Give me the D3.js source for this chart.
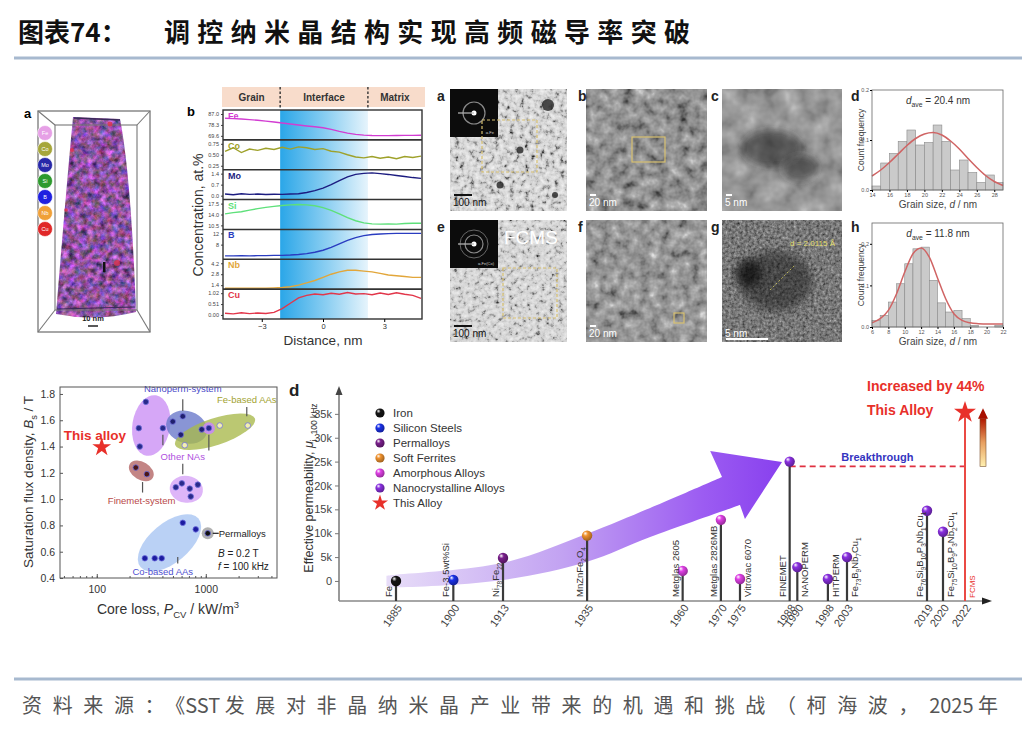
<!DOCTYPE html>
<html>
<head>
<meta charset="utf-8">
<title>调控纳米晶结构实现高频磁导率突破</title>
<script src="https://cdn.jsdelivr.net/npm/d3@7/dist/d3.min.js"></script>
<style>
  body { margin: 0; background: #fff; }
  svg { display: block; font-family: "Liberation Sans", Arial, sans-serif; }
</style>
</head>
<body>
<svg id="chart" width="1036" height="732"></svg>
<script>
// ---------------- data ----------------
// panel b : atom probe concentration profiles across the grain / matrix interface
var distNm = [-4.8,-4.4,-4.0,-3.6,-3.2,-2.8,-2.4,-2.0,-1.6,-1.2,-0.8,-0.4,0,0.4,0.8,1.2,1.6,2.0,2.4,2.8,3.2,3.6,4.0,4.4,4.8];
var elemNames = ["Fe","Co","Mo","Si","B","Nb","Cu"];
var feConc = [83.6,83.3,83.0,82.5,82.0,81.3,80.6,79.8,79.0,78.2,77.5,76.8,76.0,74.8,73.2,71.8,70.8,70.2,69.9,69.8,69.8,69.9,70.0,70.0,70.1];
var coConc = [0.58,0.66,0.55,0.63,0.60,0.65,0.62,0.67,0.63,0.68,0.66,0.62,0.64,0.58,0.56,0.50,0.45,0.43,0.46,0.42,0.45,0.41,0.46,0.44,0.47];
var moConc = [0.10,0.06,0.12,0.08,0.10,0.07,0.09,0.08,0.10,0.12,0.20,0.32,0.48,0.70,0.95,1.20,1.35,1.42,1.45,1.40,1.35,1.28,1.22,1.15,1.10];
var siConc = [14.2,14.6,14.9,15.4,15.9,16.3,16.6,16.9,17.1,17.2,17.1,16.8,16.2,15.3,14.2,13.0,12.0,11.3,11.0,10.9,11.0,10.9,11.1,11.2,11.2];
var bConc  = [4.0,4.0,4.1,4.0,4.1,4.1,4.2,4.2,4.3,4.5,4.8,5.3,6.0,7.0,8.3,9.5,10.5,11.2,11.6,11.8,11.9,12.0,12.0,12.0,12.0];
var nbConc = [1.0,1.0,1.0,1.0,1.0,1.0,1.05,1.1,1.2,1.4,1.7,2.0,2.4,2.8,3.1,3.3,3.3,3.2,3.1,2.9,2.7,2.6,2.5,2.4,2.4];
var cuConc = [0.08,0.05,0.10,0.06,0.09,0.07,0.12,0.30,0.55,0.80,0.92,0.98,0.95,1.02,0.97,1.05,0.98,1.00,0.95,1.03,0.96,1.04,0.97,0.92,0.78];
var elemTickLabels = [["87.0","78.3","69.6"],["0.75","0.50","0.25"],["1.4","0.7","0.0"],["17.5","14.0","10.5"],["12","8"],["4.2","2.8","1.4"],["1.02","0.51","0.00"]];
var elemDomains = [[66.4,90.2],[0.16,0.84],[-0.25,1.65],[9.2,18.8],[2.8,13.4],[0.89,4.71],[-0.19,1.21]];
var regionNames = ["Grain","Interface","Matrix"];
var interfaceNm = [-2.1, 2.2];

// panels d / h : grain size histograms with normal fits
var binStartD = [14,15,16,17,18,19,20,21,22,23,24,25,26,27,28];
var freqD = [0.008,0.054,0.073,0.097,0.120,0.090,0.095,0.130,0.097,0.040,0.060,0.035,0.015,0.030,0.015];
var fitXD = [14,15,16,17,18,19,20,21,22,23,24,25,26,27,28,29];
var fitYD = [0.028,0.040,0.055,0.072,0.089,0.103,0.112,0.115,0.110,0.098,0.082,0.063,0.045,0.029,0.017,0.009];
var binStartH = [6,7,8,9,10,11,12,13,14,15,16,17,18,19,20,21];
var freqH = [0.016,0.028,0.060,0.104,0.152,0.188,0.192,0.112,0.058,0.036,0.040,0.020,0.004,0,0,0.004];
var fitXH = [6,7,8,9,10,11,12,13,14,15,16,17,18,19,20,21,22];
var fitYH = [0.010,0.020,0.040,0.080,0.132,0.176,0.190,0.168,0.118,0.068,0.032,0.016,0.010,0.008,0.007,0.007,0.007];

// panel c : saturation flux density vs core loss (kW/m3, T)
var otherNAPts  = [[282,1.74],[243,1.54],[248,1.40],[404,1.54]];
var otherNAPts2 = [[1067,1.54]];
var otherNAPts3 = [[603,1.12],[713,1.08],[845,1.11],[728,1.02],[531,1.09]];
var nanopermPts = [[498,1.59],[615,1.63],[590,1.49],[918,1.53]];
var feBasedPts  = [[641,1.41],[1343,1.56],[2427,1.56]];
var finemetPts  = [[228,1.24],[288,1.19]];
var coBasedPts  = [[276,0.55],[340,0.55],[394,0.55],[615,0.82],[809,0.77]];
var permalloyPts = [[1042,0.74]];
var thisAlloyPt = [111,1.395];
var bsTicks = [0.4,0.6,0.8,1.0,1.2,1.4,1.6,1.8];
var pcvTicks = [100,1000];

// panel d : effective permeability milestones (k, 100 kHz)
var years = [1885,1900,1913,1935,1960,1970,1975,1988,1990,1998,2003,2019,2020];
var muValues = [0,0.2,4.8,9.5,2.1,12.8,0.4,25,2.9,0.4,5,14.7,10.3];
var muCats = ["Iron","Silicon Steels","Permalloys","Soft Ferrites","Amorphous Alloys","Amorphous Alloys","Amorphous Alloys",
  "Nanocrystalline Alloys","Nanocrystalline Alloys","Nanocrystalline Alloys","Nanocrystalline Alloys","Nanocrystalline Alloys","Nanocrystalline Alloys"];
var muNames = ["Fe","Fe-3.5wt%Si","Ni_{78}Fe_{22}","MnZnFe_{2}O_{4}","Metglas 2605","Metglas 2826MB","Vitrovac 6070","FINEMET","NANOPERM",
  "HITPERM","Fe_{73}B_{9}Nb_{7}Cu_{1}","Fe_{76}Si_{9}B_{10}P_{3}Nb_{1}Cu_{1}","Fe_{75}Si_{10}B_{9}P_{3}Nb_{2}Cu_{1}"];
var namesOnRight = ["Vitrovac 6070","NANOPERM","HITPERM","Fe_{73}B_{9}Nb_{7}Cu_{1}","Fe_{75}Si_{10}B_{9}P_{3}Nb_{2}Cu_{1}"];
var legendCats = ["Iron","Silicon Steels","Permalloys","Soft Ferrites","Amorphous Alloys","Nanocrystalline Alloys","This Alloy"];
var legendColors = ["#151515","#1a30e8","#7a1f8c","#f0922e","#e040e6","#8a30e0","#e8302a"];
var fcmsYear = 2022, fcmsMu = 35.3, breakthroughMu = 24;
var muTicks = [0,5,10,15,20,25,30,35];
// trend arrow outline, in (year, k) units
var trendTop = [[1882.5,1.1],[1885,1.3],[1913,3.8],[1935,9.9],[1951.5,15.3],[1970.3,21.8]];
var trendHead = [[1967.2,27.2],[1986,24.9],[1976.3,13.0],[1975,15.9]];
var trendBottom = [[1975,15.9],[1951.5,9.2],[1935,4.0],[1913,0.2],[1885,-1.3],[1882.5,-1.1]];

// ---------------- helpers ----------------
var svg = d3.select("#chart");
var defs = svg.append("defs");
var CJK = "'Noto Sans CJK SC', sans-serif";

function rich(t, str, size) {
  var parts = str.split(/(_\{[^}]*\}|\^\{[^}]*\}|\*[^*]+\*)/);
  var shift = 0;
  parts.forEach(function(p) {
    if (!p) return;
    var m = p.match(/^([_^])\{(.*)\}$/);
    if (m) {
      var dy = m[1] === "_" ? size * 0.28 : -size * 0.42;
      t.append("tspan").attr("dy", dy - shift).attr("font-size", size * 0.68).text(m[2]);
      shift = dy;
    } else {
      var it = p.match(/^\*(.*)\*$/);
      var s = t.append("tspan").attr("dy", -shift).text(it ? it[1] : p);
      if (it) s.attr("font-style", "italic");
      shift = 0;
    }
  });
  return t;
}

function ballGradient(id, col) {
  var g = defs.append("radialGradient").attr("id", id).attr("cx", "0.4").attr("cy", "0.38").attr("r", "0.65").attr("fx", "0.32").attr("fy", "0.28");
  g.append("stop").attr("offset", "0").attr("stop-color", "#fff");
  g.append("stop").attr("offset", "0.35").attr("stop-color", col);
  g.append("stop").attr("offset", "1").attr("stop-color", d3.color(col).darker(1.2));
}
legendCats.forEach(function(c, i) { ballGradient("ball" + i, legendColors[i]); });

// ---------------- title & footer ----------------
svg.append("text").attr("x", 18).attr("y", 42).attr("font-family", CJK).attr("font-weight", 700)
  .attr("font-size", 26).attr("fill", "#111").text("图表74：");
svg.append("text").attr("x", 164).attr("y", 42).attr("font-family", CJK).attr("font-weight", 700)
  .attr("font-size", 26).attr("fill", "#111").attr("textLength", 526).attr("lengthAdjust", "spacing")
  .text("调控纳米晶结构实现高频磁导率突破");
svg.append("line").attr("x1", 14).attr("x2", 1022).attr("y1", 58).attr("y2", 58).attr("stroke", "#a7b9cf").attr("stroke-width", 3);
svg.append("line").attr("x1", 14).attr("x2", 1022).attr("y1", 679).attr("y2", 679).attr("stroke", "#a7b9cf").attr("stroke-width", 3);
(function() {
  var foot = svg.append("text").attr("x", 22).attr("y", 713).attr("font-family", CJK).attr("font-size", 20).attr("fill", "#555");
  var segs = [["资料来源：", true], ["《SST ", false], ["发展对非晶纳米晶产业带来的机遇和挑战（柯海波，", true], ["2025 ", false], ["年", true]];
  segs.forEach(function(s) { foot.append("tspan").attr("class", s[1] ? "cjk" : "lat").text(s[0]); });
  var nCjk = d3.sum(segs, function(s) { return s[1] ? s[0].length : 0; });
  var sp = (976 - foot.node().getComputedTextLength()) / (nCjk - 1);
  foot.selectAll("tspan.cjk").attr("letter-spacing", sp);
})();

// ---------------- panel a : APT reconstruction ----------------
(function() {
  var g = svg.append("g");
  var f = defs.append("filter").attr("id", "aptTex").attr("color-interpolation-filters", "sRGB");
  f.append("feTurbulence").attr("type", "fractalNoise").attr("baseFrequency", 0.16).attr("numOctaves", 4).attr("seed", 7).attr("result", "n");
  f.append("feColorMatrix").attr("in", "n").attr("type", "matrix")
    .attr("values", "0.9 0 0.45 0 -0.12  0.25 0.35 0.25 0 -0.1  0.3 0 1.0 0 -0.02  0 0 0 0 1").attr("result", "c");
  f.append("feComposite").attr("in", "c").attr("in2", "SourceGraphic").attr("operator", "in");

  g.append("rect").attr("x", 38).attr("y", 111).attr("width", 112).attr("height", 221).attr("fill", "none").attr("stroke", "#777").attr("stroke-width", 1.3);
  g.append("path").attr("d", "M73,117 L120,119 C128,160 133,230 136,312 Q96,322 56,314 C62,240 68,170 73,117 Z")
    .attr("fill", "#7a62b4").attr("filter", "url(#aptTex)");
  g.append("rect").attr("x", 55).attr("y", 125).attr("width", 82).attr("height", 185).attr("fill", "none").attr("stroke", "#777").attr("stroke-width", 1.1);
  [[38,111,55,125],[150,111,137,125],[38,332,55,310],[150,332,137,310]].forEach(function(l) {
    g.append("line").attr("x1", l[0]).attr("y1", l[1]).attr("x2", l[2]).attr("y2", l[3]).attr("stroke", "#777").attr("stroke-width", 1.1);
  });
  g.append("line").attr("x1", 74).attr("y1", 118).attr("x2", 120).attr("y2", 120).attr("stroke", "#3a2a5a").attr("stroke-width", 1.5);
  g.append("line").attr("x1", 57).attr("y1", 309).attr("x2", 135).attr("y2", 307).attr("stroke", "#3a2a5a").attr("stroke-width", 1);
  [[110,124,2.5],[117,263,3],[72,150,2],[66,210,1.8]].forEach(function(c) {
    g.append("circle").attr("cx", c[0]).attr("cy", c[1]).attr("r", c[2]).attr("fill", "#e0304a").attr("opacity", 0.8);
  });
  g.append("rect").attr("x", 103).attr("y", 262).attr("width", 2.5).attr("height", 10).attr("fill", "#111");
  g.append("text").attr("x", 93).attr("y", 321).attr("text-anchor", "middle").attr("font-size", 7.5).attr("font-weight", 700).attr("fill", "#222").text("10 nm");
  g.append("line").attr("x1", 88).attr("x2", 98).attr("y1", 326).attr("y2", 326).attr("stroke", "#222").attr("stroke-width", 1.5);
  var apt = ["#e6a0e6","#a6a63a","#2828a8","#2e9a2e","#2020e0","#f0a038","#e02828"];
  elemNames.forEach(function(e, i) {
    g.append("circle").attr("cx", 45).attr("cy", 133 + 16 * i).attr("r", 7.5).attr("fill", apt[i]).attr("stroke", "#fff").attr("stroke-width", 0.6);
    g.append("text").attr("x", 45).attr("y", 135 + 16 * i).attr("text-anchor", "middle").attr("font-size", 5.5).attr("fill", "#fff").text(e);
  });
  g.append("text").attr("x", 24).attr("y", 118).attr("font-size", 13).attr("font-weight", 700).text("a");
})();

// ---------------- panel b : concentration profiles ----------------
(function() {
  var g = svg.append("g");
  var left = 223, right = 422, top = 110, bottom = 319;
  var xb = d3.scaleLinear().domain([-4.9, 4.85]).range([left, right]);
  var band = d3.scaleBand().domain(elemNames).range([top, bottom]);
  var series = [feConc, coConc, moConc, siConc, bConc, nbConc, cuConc];
  var colors = ["#d23cd2","#9ea12a","#1c1c80","#5ee07a","#2a3cc0","#e2a63a","#e2364a"];

  var grad = defs.append("linearGradient").attr("id", "ifGrad");
  grad.append("stop").attr("offset", "0").attr("stop-color", "#2aa6e8");
  grad.append("stop").attr("offset", "0.55").attr("stop-color", "#8fd0f2");
  grad.append("stop").attr("offset", "1").attr("stop-color", "#e6f4fc");
  g.append("rect").attr("x", xb(interfaceNm[0])).attr("y", top).attr("width", xb(interfaceNm[1]) - xb(interfaceNm[0]))
    .attr("height", bottom - top).attr("fill", "url(#ifGrad)");

  // header
  g.append("rect").attr("x", left - 1).attr("y", 87).attr("width", right - left + 4).attr("height", 20).attr("fill", "#f8dccb");
  var cuts = [xb.domain()[0], interfaceNm[0], interfaceNm[1], xb.domain()[1]];
  regionNames.forEach(function(r, i) {
    g.append("text").attr("x", (xb(cuts[i]) + xb(cuts[i + 1])) / 2).attr("y", 101).attr("text-anchor", "middle")
      .attr("font-size", 10).attr("font-weight", 700).attr("fill", "#333").text(r);
  });
  interfaceNm.forEach(function(v) {
    g.append("line").attr("x1", xb(v)).attr("x2", xb(v)).attr("y1", 87).attr("y2", 108).attr("stroke", "#333").attr("stroke-width", 1.4).attr("stroke-dasharray", "2.5,2");
  });

  elemNames.forEach(function(e, i) {
    var y0 = band(e), h = band.bandwidth();
    var ys = d3.scaleLinear().domain(elemDomains[i]).range([y0 + h, y0]);
    var pts = distNm.map(function(d, j) { return [d, series[i][j]]; });
    g.append("path").attr("d", d3.line().x(function(d) { return xb(d[0]); }).y(function(d) { return ys(d[1]); })(pts))
      .attr("fill", "none").attr("stroke", colors[i]).attr("stroke-width", 1.4);
    g.append("text").attr("x", left + 5).attr("y", y0 + 9).attr("font-size", 9).attr("font-weight", 700).attr("fill", colors[i]).text(e);
    var ax = g.append("g").attr("transform", "translate(" + left + ",0)")
      .call(d3.axisLeft(ys).tickValues(elemTickLabels[i].map(Number)).tickFormat(function(d, k) { return elemTickLabels[i][k]; }).tickSize(2).tickPadding(2));
    ax.select(".domain").remove();
    ax.selectAll("text").attr("font-size", 5.5).attr("fill", "#444");
    ax.selectAll("line").attr("stroke", "#444");
    if (i > 0) g.append("line").attr("x1", left).attr("x2", right).attr("y1", y0).attr("y2", y0).attr("stroke", "#333").attr("stroke-width", 1.6);
  });
  g.append("rect").attr("x", left).attr("y", top).attr("width", right - left).attr("height", bottom - top)
    .attr("fill", "none").attr("stroke", "#333").attr("stroke-width", 1.4);
  var xa = g.append("g").attr("transform", "translate(0," + bottom + ")").call(d3.axisBottom(xb).tickValues([-3, 0, 3]).tickSize(3).tickPadding(2));
  xa.select(".domain").remove();
  xa.selectAll("text").attr("font-size", 7.5).attr("fill", "#333");
  g.append("text").attr("x", xb(0)).attr("y", 345).attr("text-anchor", "middle").attr("font-size", 13.5).attr("fill", "#333").text("Distance, nm");
  g.append("text").attr("transform", "translate(203,215) rotate(-90)").attr("text-anchor", "middle").attr("font-size", 14).attr("fill", "#333").text("Concentration, at.%");
  g.append("text").attr("x", 187).attr("y", 116).attr("font-size", 13).attr("font-weight", 700).text("b");
})();

// ---------------- TEM images (a-c, e-g) ----------------
(function() {
  var g = svg.append("g");
  var tiles = [
    { k: "a", x: 450, y: 89,  w: 117, h: 122, freq: 0.2,  seed: 3,  table: "0.05 0.18 0.52 0.76 0.84 0.88 0.91 0.94 0.97", bar: "100 nm", barCol: "#111" },
    { k: "b", x: 586, y: 89,  w: 121, h: 122, freq: 0.09, seed: 5,  table: "0.1 0.22 0.38 0.5 0.57 0.63 0.7 0.82 0.95", bar: "20 nm", barCol: "#fff" },
    { k: "c", x: 722, y: 89,  w: 120, h: 122, freq: 0.05, seed: 8,  table: "0.35 0.42 0.5 0.56 0.6 0.64 0.69 0.76 0.85", bar: "5 nm", barCol: "#fff" },
    { k: "e", x: 450, y: 220, w: 117, h: 122, freq: 0.22, seed: 11, table: "0.05 0.22 0.58 0.78 0.84 0.87 0.9 0.93 0.96", bar: "100 nm", barCol: "#111" },
    { k: "f", x: 586, y: 220, w: 121, h: 122, freq: 0.1,  seed: 13, table: "0.12 0.25 0.42 0.53 0.59 0.65 0.72 0.84 0.95", bar: "20 nm", barCol: "#fff" },
    { k: "g", x: 722, y: 220, w: 120, h: 122, freq: 0.35, seed: 17, table: "0.12 0.22 0.32 0.4 0.47 0.53 0.6 0.7 0.8", bar: "5 nm", barCol: "#fff" }
  ];
  var blur = defs.append("filter").attr("id", "blob").attr("x", "-50%").attr("y", "-50%").attr("width", "200%").attr("height", "200%");
  blur.append("feGaussianBlur").attr("stdDeviation", 4);
  tiles.forEach(function(t) {
    var f = defs.append("filter").attr("id", "tem" + t.k).attr("x", 0).attr("y", 0).attr("width", 1).attr("height", 1)
      .attr("color-interpolation-filters", "sRGB");
    f.append("feTurbulence").attr("type", "fractalNoise").attr("baseFrequency", t.freq).attr("numOctaves", 3).attr("seed", t.seed).attr("result", "n");
    f.append("feColorMatrix").attr("in", "n").attr("type", "matrix").attr("values", "1 0 0 0 0  1 0 0 0 0  1 0 0 0 0  0 0 0 0 1").attr("result", "gr");
    var ct = f.append("feComponentTransfer").attr("in", "gr").attr("result", "c");
    ["feFuncR", "feFuncG", "feFuncB"].forEach(function(fn) { ct.append(fn).attr("type", "table").attr("tableValues", t.table); });
    f.append("feComposite").attr("in", "c").attr("in2", "SourceGraphic").attr("operator", "in");
    g.append("rect").attr("x", t.x).attr("y", t.y).attr("width", t.w).attr("height", t.h).attr("fill", "#888").attr("filter", "url(#tem" + t.k + ")");
  });
  // a few larger grains in a, particles in c and g
  [[548, 105, 6], [520, 150, 3.5], [500, 185, 3.5], [555, 195, 3]].forEach(function(c) {
    g.append("circle").attr("cx", c[0]).attr("cy", c[1]).attr("r", c[2]).attr("fill", "#222").attr("opacity", 0.8);
  });
  g.append("ellipse").attr("cx", 772).attr("cy", 148).attr("rx", 30).attr("ry", 18).attr("fill", "#1e1e1e").attr("opacity", 0.55).attr("filter", "url(#blob)");
  g.append("ellipse").attr("cx", 800).attr("cy", 168).attr("rx", 18).attr("ry", 13).attr("fill", "#1e1e1e").attr("opacity", 0.55).attr("filter", "url(#blob)");
  g.append("ellipse").attr("cx", 776).attr("cy", 281).attr("rx", 36).attr("ry", 30).attr("fill", "#111").attr("opacity", 0.45).attr("filter", "url(#blob)");
  g.append("ellipse").attr("cx", 748).attr("cy", 273).attr("rx", 13).attr("ry", 14).attr("fill", "#000").attr("opacity", 0.6).attr("filter", "url(#blob)");
  // SAED insets
  [[450, 89, 11], [450, 220, 9]].forEach(function(s, i) {
    g.append("rect").attr("x", s[0]).attr("y", s[1]).attr("width", 48).attr("height", 48).attr("fill", "#0c0c0c");
    g.append("circle").attr("cx", s[0] + 24).attr("cy", s[1] + 24).attr("r", s[2]).attr("fill", "none").attr("stroke", "#8a8a8a").attr("stroke-width", 1.2);
    if (i) g.append("circle").attr("cx", s[0] + 24).attr("cy", s[1] + 24).attr("r", 14).attr("fill", "none").attr("stroke", "#666").attr("stroke-width", 1);
    g.append("circle").attr("cx", s[0] + 24).attr("cy", s[1] + 24).attr("r", 2.5).attr("fill", "#fff");
    g.append("line").attr("x1", s[0] + 8).attr("x2", s[0] + 24).attr("y1", s[1] + 24).attr("y2", s[1] + 24).attr("stroke", "#bbb").attr("stroke-width", 1.2);
    g.append("text").attr("x", s[0] + 44).attr("y", s[1] + 45).attr("text-anchor", "end").attr("font-size", 4).attr("fill", "#ccc").text(i ? "α-Fe(Co)" : "α-Fe");
  });
  g.append("text").attr("x", 504).attr("y", 244).attr("font-size", 19).attr("fill", "#fff").text("FCMS");
  // dashed selection boxes
  [[482, 120, 55, 52], [632, 137, 33, 25], [503, 268, 54, 50], [674, 313, 10, 10]].forEach(function(b) {
    g.append("rect").attr("x", b[0]).attr("y", b[1]).attr("width", b[2]).attr("height", b[3]).attr("fill", "none")
      .attr("stroke", "#d8c070").attr("stroke-width", 1.2).attr("stroke-dasharray", b[2] > 40 ? "3,2" : null);
  });
  g.append("text").attr("x", 790).attr("y", 246).attr("font-size", 8).attr("fill", "#e8e070").text("d = 2.0115 Å");
  g.append("line").attr("x1", 770).attr("x2", 795).attr("y1", 290).attr("y2", 265).attr("stroke", "#d8d060").attr("stroke-width", 0.8).attr("stroke-dasharray", "2,2");
  // scale bars
  tiles.forEach(function(t) {
    var long = t.k === "g" ? 42 : (t.bar === "100 nm" ? 18 : 6);
    g.append("text").attr("x", t.x + 3).attr("y", t.y + t.h - 5).attr("font-size", 10).attr("fill", t.barCol).text(t.bar);
    g.append("line").attr("x1", t.x + 4).attr("x2", t.x + 4 + long).attr("y1", t.y + t.h - (t.k === "g" ? 3 : 16)).attr("y2", t.y + t.h - (t.k === "g" ? 3 : 16))
      .attr("stroke", t.barCol).attr("stroke-width", 2);
  });
  [["a", 437, 101], ["b", 578, 101], ["c", 711, 101], ["d", 851, 101], ["e", 437, 232], ["f", 578, 232], ["g", 711, 232], ["h", 851, 232]].forEach(function(l) {
    g.append("text").attr("x", l[1]).attr("y", l[2]).attr("font-size", 14).attr("font-weight", 700).attr("fill", "#222").text(l[0]);
  });
})();

// ---------------- histograms d / h ----------------
function histPanel(starts, freq, fitX, fitY, xDom, yMax, top, bottom, xTicks, note) {
  var g = svg.append("g");
  var xs = d3.scaleLinear().domain(xDom).range([872, 1003]);
  var ys = d3.scaleLinear().domain([0, yMax]).range([bottom, top]);
  g.selectAll("rect.bar").data(starts).enter().append("rect").attr("class", "bar")
    .attr("x", function(d) { return xs(d); }).attr("width", function(d) { return xs(d + 1) - xs(d); })
    .attr("y", function(d, i) { return ys(freq[i]); }).attr("height", function(d, i) { return bottom - ys(freq[i]); })
    .attr("fill", "#cacaca").attr("stroke", "#8a8a8a").attr("stroke-width", 0.6);
  var fit = fitX.map(function(d, i) { return [d, fitY[i]]; });
  g.append("path").attr("d", d3.line().x(function(d) { return xs(d[0]); }).y(function(d) { return ys(d[1]); }).curve(d3.curveMonotoneX)(fit))
    .attr("fill", "none").attr("stroke", "#d06464").attr("stroke-width", 1.5);
  g.append("rect").attr("x", 872).attr("y", top).attr("width", 131).attr("height", bottom - top).attr("fill", "none").attr("stroke", "#666").attr("stroke-width", 0.8);
  var xa = g.append("g").attr("transform", "translate(0," + bottom + ")").call(d3.axisBottom(xs).tickValues(xTicks).tickSize(2).tickPadding(1));
  xa.select(".domain").remove();
  xa.selectAll("text").attr("font-size", 5.5).attr("fill", "#555");
  var ya = g.append("g").attr("transform", "translate(872,0)").call(d3.axisLeft(ys).tickValues([0, 0.1, 0.2]).tickFormat(d3.format(".1f")).tickSize(2).tickPadding(1));
  ya.select(".domain").remove();
  ya.selectAll("text").attr("font-size", 5.5).attr("fill", "#555");
  rich(g.append("text").attr("x", 938).attr("y", top + 14).attr("text-anchor", "middle").attr("font-size", 10).attr("fill", "#333"), note, 10);
  rich(g.append("text").attr("x", 938).attr("y", bottom + 18).attr("text-anchor", "middle").attr("font-size", 10).attr("fill", "#444"), "Grain size, *d* / nm", 10);
  g.append("text").attr("transform", "translate(864," + ((top + bottom) / 2) + ") rotate(-90)").attr("text-anchor", "middle")
    .attr("font-size", 8.5).attr("fill", "#444").text("Count frequency");
}
histPanel(binStartD, freqD, fitXD, fitYD, [14, 29], 0.2, 90, 190, [14,16,18,20,22,24,26,28], "*d*_{ave} = 20.4 nm");
histPanel(binStartH, freqH, fitXH, fitYH, [6, 22], 0.25, 223, 327, [6,8,10,12,14,16,18,20,22], "*d*_{ave} = 11.8 nm");

// ---------------- panel c : Bs vs Pcv ----------------
(function() {
  var g = svg.append("g");
  var xs = d3.scaleLog().domain([46, 4500]).range([60, 277]);
  var ys = d3.scaleLinear().domain([0.4, 1.853]).range([578, 387]);

  function ellipseFor(pts, padA, padB) {
    var p = pts.map(function(d) { return [xs(d[0]), ys(d[1])]; });
    var cx = d3.mean(p, function(d) { return d[0]; }), cy = d3.mean(p, function(d) { return d[1]; });
    var sxx = d3.mean(p, function(d) { return (d[0] - cx) * (d[0] - cx); });
    var syy = d3.mean(p, function(d) { return (d[1] - cy) * (d[1] - cy); });
    var sxy = d3.mean(p, function(d) { return (d[0] - cx) * (d[1] - cy); });
    var ang = 0.5 * Math.atan2(2 * sxy, sxx - syy), ca = Math.cos(ang), sa = Math.sin(ang);
    var u = p.map(function(d) { return (d[0] - cx) * ca + (d[1] - cy) * sa; });
    var v = p.map(function(d) { return -(d[0] - cx) * sa + (d[1] - cy) * ca; });
    var cu = (d3.min(u) + d3.max(u)) / 2, cv = (d3.min(v) + d3.max(v)) / 2;
    return { cx: cx + cu * ca - cv * sa, cy: cy + cu * sa + cv * ca,
             rx: (d3.max(u) - d3.min(u)) / 2 + padA, ry: (d3.max(v) - d3.min(v)) / 2 + padB, ang: ang * 180 / Math.PI };
  }
  var groups = [
    { pts: otherNAPts,  fill: "#c88af4", op: 0.75, pa: 8,  pb: 7,  dot: "#2a2a8a" },
    { pts: nanopermPts, fill: "#6c7acb", op: 0.8,  pa: 6,  pb: 7,  dot: "#20206e" },
    { pts: feBasedPts,  fill: "#a8b84a", op: 0.78, pa: 9,  pb: 9,  dot: "#f2f0b0" },
    { pts: otherNAPts2, fill: "#c88af4", op: 0.9,  pa: 6,  pb: 6,  dot: "#2a2a8a" },
    { pts: finemetPts,  fill: "#b87070", op: 0.85, pa: 7,  pb: 9,  dot: "#4a1616" },
    { pts: otherNAPts3, fill: "#d6a2f6", op: 0.8,  pa: 6,  pb: 7,  dot: "#2a2a8a" },
    { pts: coBasedPts,  fill: "#a9c6f2", op: 0.8,  pa: 9,  pb: 13, dot: "#1c1ca0" },
    { pts: permalloyPts, fill: "#a8a8a8", op: 0.9, pa: 6,  pb: 6,  dot: "#111" }
  ];
  groups.forEach(function(gr) {
    var e = ellipseFor(gr.pts, gr.pa, gr.pb);
    g.append("ellipse").attr("transform", "translate(" + e.cx + "," + e.cy + ") rotate(" + e.ang + ")")
      .attr("rx", e.rx).attr("ry", e.ry).attr("fill", gr.fill).attr("opacity", gr.op);
  });
  groups.forEach(function(gr) {
    g.selectAll(null).data(gr.pts).enter().append("circle")
      .attr("cx", function(d) { return xs(d[0]); }).attr("cy", function(d) { return ys(d[1]); })
      .attr("r", 2.8).attr("fill", gr.dot).attr("stroke", "#7070e0").attr("stroke-width", 0.8);
  });
  g.append("path").attr("d", d3.symbol(d3.symbolStar, 110)()).attr("transform", "translate(" + xs(thisAlloyPt[0]) + "," + ys(thisAlloyPt[1]) + ")").attr("fill", "#e8302a");

  // annotations in data units
  var notes = [
    ["Nanoperm-system", 615, 1.815, "#4a4ac8", [[615, 1.76, 1.67]]],
    ["Fe-based AAs", 2377, 1.73, "#a2a232", [[2377, 1.70, 1.63]]],
    ["Other NAs", 615, 1.298, "#b050e0", [[404, 1.49, 1.41], [1067, 1.49, 1.37], [615, 1.27, 1.19]]],
    ["Finemet-system", 258, 0.965, "#b84848", [[263, 1.13, 1.05]]],
    ["Co-based AAs", 403, 0.422, "#5050d0", [[553, 0.56, 0.51]]]
  ];
  notes.forEach(function(n) {
    g.append("text").attr("x", xs(n[1])).attr("y", ys(n[2])).attr("text-anchor", "middle").attr("font-size", 9.5).attr("fill", n[3]).text(n[0]);
    n[4].forEach(function(l) {
      g.append("line").attr("x1", xs(l[0])).attr("x2", xs(l[0])).attr("y1", ys(l[1])).attr("y2", ys(l[2])).attr("stroke", "#555").attr("stroke-width", 1.2);
    });
  });
  var pm = permalloyPts[0];
  g.append("line").attr("x1", xs(pm[0]) + 5).attr("x2", xs(pm[0]) + 11).attr("y1", ys(pm[1])).attr("y2", ys(pm[1])).attr("stroke", "#222").attr("stroke-width", 1.2);
  g.append("text").attr("x", xs(pm[0]) + 11).attr("y", ys(pm[1]) + 3.5).attr("font-size", 9.5).attr("fill", "#222").text("Permalloys");
  rich(g.append("text").attr("x", 218).attr("y", 557).attr("font-size", 10).attr("fill", "#222"), "*B* = 0.2 T", 10);
  rich(g.append("text").attr("x", 218).attr("y", 570).attr("font-size", 10).attr("fill", "#222"), "*f*  = 100 kHz", 10);
  g.append("text").attr("x", xs(thisAlloyPt[0]) - 38).attr("y", ys(thisAlloyPt[1]) - 7).attr("font-size", 13.5).attr("font-weight", 700).attr("fill", "#e8302a").text("This alloy");

  // frame and axes
  g.append("rect").attr("x", 60).attr("y", 387).attr("width", 217).attr("height", 191).attr("fill", "none").attr("stroke", "#555").attr("stroke-width", 1);
  var ya = g.append("g").attr("transform", "translate(60,0)").call(d3.axisLeft(ys).tickValues(bsTicks).tickFormat(d3.format(".1f")).tickSize(-3).tickPadding(5));
  ya.select(".domain").remove();
  ya.selectAll("text").attr("font-size", 10.5).attr("fill", "#333");
  var minor = [];
  [10, 100, 1000].forEach(function(dec) { for (var k = 1; k < 10; k++) if (dec * k >= 46 && dec * k <= 4500) minor.push(dec * k); });
  var xa = g.append("g").attr("transform", "translate(0,578)").call(d3.axisBottom(xs).tickValues(minor).tickFormat("").tickSize(-2));
  xa.select(".domain").remove();
  var xa2 = g.append("g").attr("transform", "translate(0,578)").call(d3.axisBottom(xs).tickValues(pcvTicks).tickFormat(d3.format("d")).tickSize(-4).tickPadding(8));
  xa2.select(".domain").remove();
  xa2.selectAll("text").attr("font-size", 10.5).attr("fill", "#333");
  g.selectAll(".tick line").attr("stroke", "#555");
  rich(g.append("text").attr("x", 168).attr("y", 614).attr("text-anchor", "middle").attr("font-size", 14).attr("fill", "#333"), "Core loss, *P*_{CV} / kW/m^{3}", 14);
  rich(g.append("text").attr("transform", "translate(33,482) rotate(-90)").attr("text-anchor", "middle").attr("font-size", 13.5).attr("fill", "#333"),
    "Saturation flux density, *B*_{s} / T", 13.5);
})();

// ---------------- panel d : permeability milestones ----------------
(function() {
  var g = svg.append("g");
  var xd = d3.scaleLinear().domain([1885, 2003, 2019, 2020, 2022]).range([396, 847, 927, 943, 965]);
  var yd = d3.scaleLinear().domain([-4.2, 40]).range([601, 390]);
  var base = yd(-4.2);

  // trend arrow
  var ag = defs.append("linearGradient").attr("id", "trendGrad").attr("gradientUnits", "userSpaceOnUse")
    .attr("x1", xd(1882)).attr("x2", xd(1986)).attr("y1", 0).attr("y2", 0);
  ag.append("stop").attr("offset", "0").attr("stop-color", "#e8def8");
  ag.append("stop").attr("offset", "0.45").attr("stop-color", "#c2a2f2");
  ag.append("stop").attr("offset", "0.8").attr("stop-color", "#9c5cf2");
  ag.append("stop").attr("offset", "1").attr("stop-color", "#8840ee");
  var edge = d3.line().x(function(d) { return xd(d[0]); }).y(function(d) { return yd(d[1]); }).curve(d3.curveCatmullRom);
  var outline = edge(trendTop) + trendHead.map(function(d) { return "L" + xd(d[0]) + "," + yd(d[1]); }).join("") +
    edge(trendBottom).replace(/^M/, "L") + "Z";
  g.append("path").attr("d", outline).attr("fill", "url(#trendGrad)");

  // axes
  var ya = g.append("g").attr("transform", "translate(339,0)")
    .call(d3.axisLeft(yd).tickValues(muTicks).tickFormat(function(d) { return d ? d + "k" : "0"; }).tickSize(4).tickPadding(3));
  ya.select(".domain").remove();
  ya.selectAll("text").attr("font-size", 11).attr("fill", "#444");
  ya.selectAll("line").attr("stroke", "#777");
  g.append("line").attr("x1", 339).attr("x2", 339).attr("y1", base).attr("y2", 392).attr("stroke", "#777").attr("stroke-width", 1.5);
  g.append("path").attr("d", "M339,386 L335.5,395 L342.5,395 Z").attr("fill", "#444");
  g.append("line").attr("x1", 339).attr("x2", 984).attr("y1", base).attr("y2", base).attr("stroke", "#888").attr("stroke-width", 1.5);
  g.append("path").attr("d", "M992," + base + " L982," + (base - 3.5) + " L982," + (base + 3.5) + " Z").attr("fill", "#222");
  var xa = g.append("g").attr("transform", "translate(0," + base + ")")
    .call(d3.axisBottom(xd).tickValues(years.concat([fcmsYear])).tickFormat(d3.format("d")).tickSize(0));
  xa.select(".domain").remove();
  xa.selectAll("text").attr("font-size", 11).attr("fill", "#444").attr("text-anchor", "end")
    .attr("x", -2).attr("y", 5).attr("dy", "0.35em").attr("transform", "rotate(-55)");

  // breakthrough line + FCMS
  g.append("line").attr("x1", xd(1988)).attr("x2", xd(fcmsYear)).attr("y1", yd(breakthroughMu)).attr("y2", yd(breakthroughMu))
    .attr("stroke", "#e03040").attr("stroke-width", 1.6).attr("stroke-dasharray", "6,4");
  g.append("text").attr("x", (xd(1988) + xd(fcmsYear)) / 2).attr("y", yd(breakthroughMu) - 5).attr("text-anchor", "middle")
    .attr("font-size", 11).attr("font-weight", 700).attr("fill", "#3434c0").text("Breakthrough");
  g.append("line").attr("x1", xd(fcmsYear)).attr("x2", xd(fcmsYear)).attr("y1", base).attr("y2", yd(fcmsMu))
    .attr("stroke", "#ea4a44").attr("stroke-width", 2);
  g.append("text").attr("transform", "translate(" + (xd(fcmsYear) + 10) + "," + (base - 3) + ") rotate(-90)")
    .attr("font-size", 8).attr("fill", "#e8302a").text("FCMS");
  g.append("path").attr("d", d3.symbol(d3.symbolStar, 150)()).attr("transform", "translate(" + xd(fcmsYear) + "," + yd(fcmsMu) + ")").attr("fill", "#e8302a");
  g.append("text").attr("x", xd(fcmsYear) - 98).attr("y", yd(fcmsMu) - 21).attr("font-size", 14).attr("font-weight", 700).attr("fill", "#e8302a").text("Increased by 44%");
  g.append("text").attr("x", xd(fcmsYear) - 98).attr("y", yd(fcmsMu) + 3).attr("font-size", 14).attr("font-weight", 700).attr("fill", "#e8302a").text("This Alloy");
  // gain arrow
  var gg = defs.append("linearGradient").attr("id", "gainGrad").attr("x1", 0).attr("x2", 0).attr("y1", 1).attr("y2", 0);
  gg.append("stop").attr("offset", "0").attr("stop-color", "#fff0b0");
  gg.append("stop").attr("offset", "0.5").attr("stop-color", "#e8a060");
  gg.append("stop").attr("offset", "1").attr("stop-color", "#b01800");
  var gx = xd(fcmsYear) + 18;
  g.append("rect").attr("x", gx - 3).attr("y", yd(34)).attr("width", 6).attr("height", yd(breakthroughMu) - yd(34))
    .attr("fill", "url(#gainGrad)").attr("stroke", "#7a5030").attr("stroke-width", 0.6);
  g.append("path").attr("d", "M" + gx + "," + yd(36.2) + " L" + (gx - 5) + "," + yd(34) + " L" + (gx + 5) + "," + yd(34) + " Z").attr("fill", "#a81000");

  // stems, balls and labels
  years.forEach(function(yr, i) {
    var cx = xd(yr), cy = yd(muValues[i]);
    g.append("line").attr("x1", cx).attr("x2", cx).attr("y1", base).attr("y2", cy).attr("stroke", "#3a3a3a").attr("stroke-width", 2.2);
    g.append("circle").attr("cx", cx).attr("cy", cy).attr("r", 5.2).attr("fill", "url(#ball" + legendCats.indexOf(muCats[i]) + ")");
    var rightSide = namesOnRight.indexOf(muNames[i]) >= 0;
    var lx = rightSide ? cx + 11 : cx - 4;
    rich(g.append("text").attr("transform", "translate(" + lx + "," + (base - 4) + ") rotate(-90)")
      .attr("font-size", 9.5).attr("fill", "#333"), muNames[i], 9.5);
  });

  // legend
  legendCats.forEach(function(c, i) {
    var ly = 413 + 15 * i;
    if (c === "This Alloy") {
      g.append("path").attr("d", d3.symbol(d3.symbolStar, 80)()).attr("transform", "translate(380," + ly + ")").attr("fill", legendColors[i]);
    } else {
      g.append("circle").attr("cx", 380).attr("cy", ly).attr("r", 4.6).attr("fill", "url(#ball" + i + ")");
    }
    g.append("text").attr("x", 393).attr("y", ly + 4).attr("font-size", 11.5).attr("fill", "#333").text(c);
  });
  rich(g.append("text").attr("transform", "translate(313,488) rotate(-90)").attr("text-anchor", "middle").attr("font-size", 12.5).attr("fill", "#333"),
    "Effective permeability, *μ*_{i, 100 kHz}", 12.5);
  g.append("text").attr("x", 289).attr("y", 396).attr("font-size", 17).attr("font-weight", 700).attr("fill", "#222").text("d");
})();
</script>
</body>
</html>
